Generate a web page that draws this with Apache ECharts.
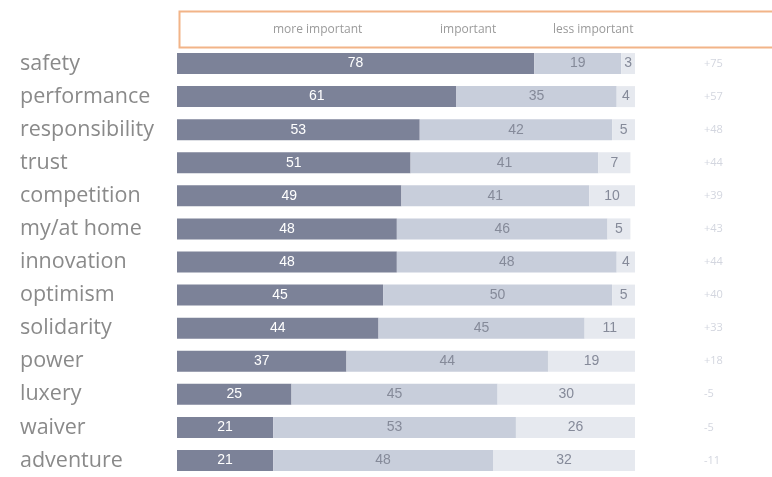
<!DOCTYPE html>
<html><head><meta charset="utf-8">
<script src="https://cdn.jsdelivr.net/npm/echarts@6/dist/echarts.min.js"></script>
<style>html,body{margin:0;padding:0;background:#fff}#c{width:772px;height:477px}</style>
</head><body><div id="c"></div>
<script>
var categories = ['safety','performance','responsibility','trust','competition','my/at home','innovation','optimism','solidarity','power','luxery','waiver','adventure'];
var moreImportant = [78,61,53,51,49,48,48,45,44,37,25,21,21];
var important = [19,35,42,41,41,46,48,50,45,44,45,53,48];
var lessImportant = [3,4,5,7,10,5,4,5,11,19,30,26,32];
var net = [75,57,48,44,39,43,44,40,33,18,-5,-5,-11];
var seriesNames = ['more important','important','less important'];

var chart = echarts.init(document.getElementById('c'));
var lblFont = 'Liberation Sans, Arial';
var legendText = {color:'#9a9a9a', fontSize:12, fontFamily:'Open Sans'};
chart.setOption({
  animation:false,
  backgroundColor:'#fff',
  grid:{left:177, top:47, height:434, right:137, containLabel:false},
  xAxis:{type:'value', min:0, max:100, show:false},
  yAxis:[{
    type:'category', data:categories, inverse:true,
    axisLine:{show:false}, axisTick:{show:false},
    axisLabel:{align:'left', margin:157, color:'#8a8a8a', fontSize:21.5, fontFamily:'Open Sans'}
  },{
    type:'category', data:net.map(function(v){return (v>0?'+':'')+v;}), inverse:true, position:'right',
    axisLine:{show:false}, axisTick:{show:false},
    axisLabel:{align:'left', margin:69, color:'#d3d6df', fontSize:11, fontFamily:'Open Sans'}
  }],
  legend:[
    {data:[seriesNames[0]], left:263, top:18, icon:'none', itemWidth:0, textStyle:legendText},
    {data:[seriesNames[1]], left:430, top:18, icon:'none', itemWidth:0, textStyle:legendText},
    {data:[seriesNames[2]], left:543, top:18, icon:'none', itemWidth:0, textStyle:legendText}
  ],
  graphic:[{type:'rect', left:177, top:9, shape:{width:620, height:36}, style:{fill:'none', stroke:'#f2b488', lineWidth:2}}],
  series:[
    {name:seriesNames[0], type:'bar', stack:'a', data:moreImportant, barWidth:21, itemStyle:{color:'#7c8298'},
     label:{show:true, position:'inside', color:'#ffffff', fontFamily:lblFont, fontSize:14}},
    {name:seriesNames[1], type:'bar', stack:'a', data:important, barWidth:21, itemStyle:{color:'#c8cedb'},
     label:{show:true, position:'inside', color:'#858a99', fontFamily:lblFont, fontSize:14}},
    {name:seriesNames[2], type:'bar', stack:'a', data:lessImportant, barWidth:21, itemStyle:{color:'#e6e9ef'},
     label:{show:true, position:'inside', color:'#858a99', fontFamily:lblFont, fontSize:14}}
  ]
});
</script></body></html>
